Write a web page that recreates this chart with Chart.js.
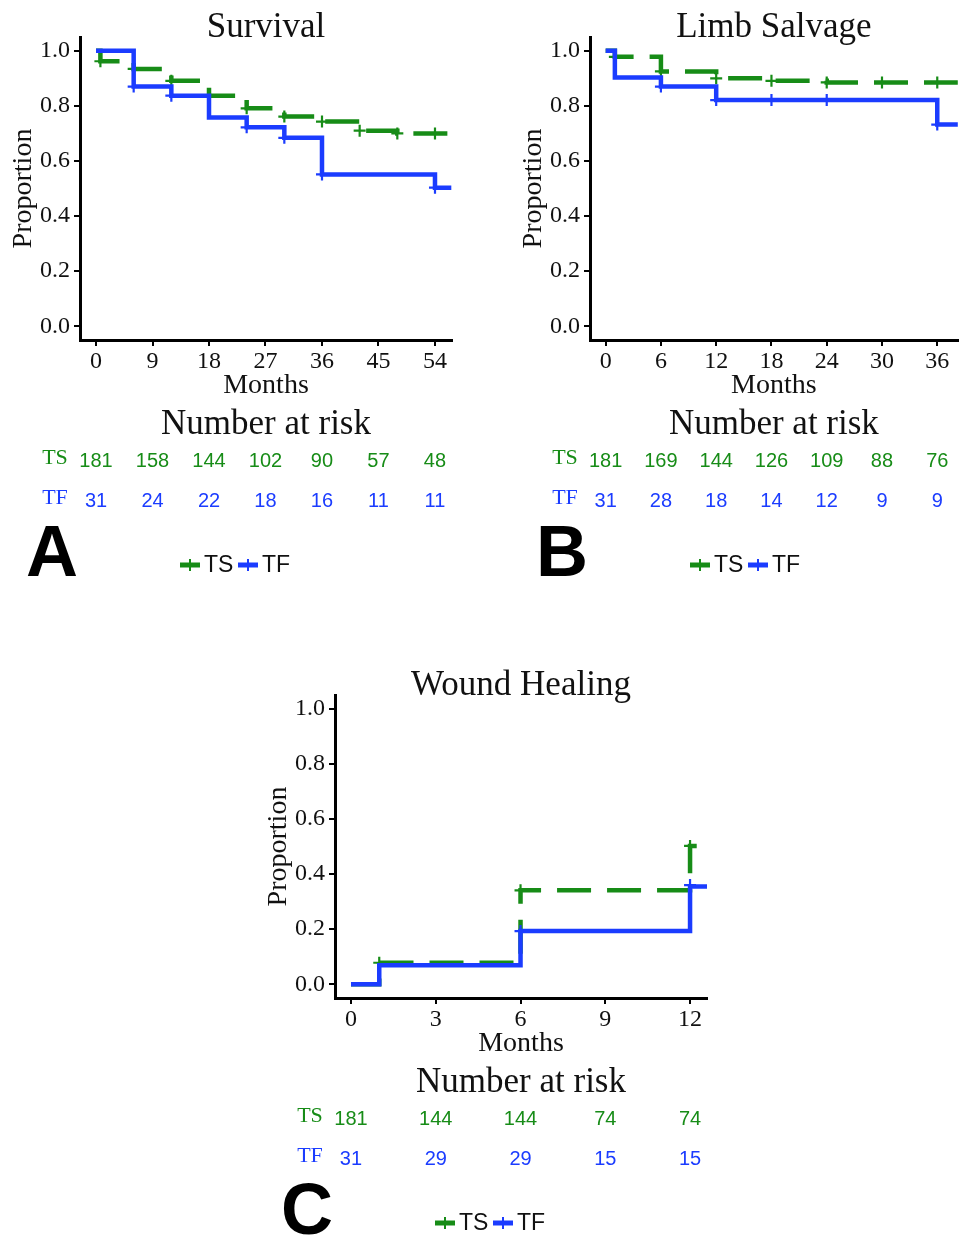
<!DOCTYPE html>
<html>
<head>
<meta charset="utf-8">
<script src="https://cdn.jsdelivr.net/npm/chart.js@4.4.0/dist/chart.umd.min.js"></script>
<style>
  html, body { margin: 0; padding: 0; background: #fff; overflow: hidden; }
  body { width: 966px; height: 1239px; position: relative; }
  canvas { position: absolute; }
</style>
</head>
<body>
<canvas id="chartA" width="470" height="600" style="left:0px;top:0px"></canvas>
<canvas id="chartB" width="456" height="600" style="left:510px;top:0px"></canvas>
<canvas id="chartC" width="470" height="581" style="left:255px;top:658px"></canvas>
<script>
// shared y ticks
const propTicks = [0, 0.2, 0.4, 0.6, 0.8, 1.0];

// A - Survival
const survTicks = [0, 9, 18, 27, 36, 45, 54];
const survTsTime = [0, 0.7, 6, 12, 18, 24, 30, 36, 42, 48, 56.6];
const survTsProb = [1, 0.962, 0.934, 0.891, 0.837, 0.791, 0.761, 0.743, 0.710, 0.700, 0.700];
const survTsCensTime = [0.7, 6, 12, 18, 24, 30, 36, 42, 48, 54];
const survTsCensProb = [0.962, 0.934, 0.891, 0.837, 0.791, 0.761, 0.743, 0.710, 0.700, 0.700];
const survTfTime = [0, 6, 12, 18, 24, 30, 36, 54, 56.6];
const survTfProb = [1, 0.870, 0.837, 0.758, 0.722, 0.684, 0.551, 0.503, 0.503];
const survTfCensTime = [6, 12, 24, 30, 36, 54];
const survTfCensProb = [0.870, 0.837, 0.722, 0.684, 0.551, 0.503];
const survRiskTs = [181, 158, 144, 102, 90, 57, 48];
const survRiskTf = [31, 24, 22, 18, 16, 11, 11];

// B - Limb Salvage
const limbTicks = [0, 6, 12, 18, 24, 30, 36];
const limbTsTime = [0, 1, 6, 12, 18, 24, 38.3];
const limbTsProb = [1, 0.978, 0.925, 0.900, 0.891, 0.885, 0.885];
const limbTsCensTime = [1, 6, 12, 18, 24, 30, 36];
const limbTsCensProb = [0.978, 0.925, 0.900, 0.891, 0.885, 0.885, 0.885];
const limbTfTime = [0, 1, 6, 12, 36, 38.3];
const limbTfProb = [1, 0.903, 0.870, 0.821, 0.732, 0.732];
const limbTfCensTime = [6, 12, 18, 24, 36];
const limbTfCensProb = [0.870, 0.821, 0.821, 0.821, 0.732];
const limbRiskTs = [181, 169, 144, 126, 109, 88, 76];
const limbRiskTf = [31, 28, 18, 14, 12, 9, 9];

// C - Wound Healing
const woundTicks = [0, 3, 6, 9, 12];
const woundTsTime = [0, 1, 6, 12, 12.4];
const woundTsProb = [0, 0.078, 0.341, 0.502, 0.502];
const woundTsCensTime = [1, 6, 12];
const woundTsCensProb = [0.078, 0.341, 0.502];
const woundTfTime = [0, 1, 6, 12, 12.6];
const woundTfProb = [0, 0.069, 0.193, 0.355, 0.355];
const woundTfCensTime = [6, 12];
const woundTfCensProb = [0.193, 0.36];
const woundRiskTs = [181, 144, 144, 74, 74];
const woundRiskTf = [31, 29, 29, 15, 15];

const GREEN = '#178c17';
const BLUE = '#1b3cff';
const SERIF = "'Liberation Serif', 'Times New Roman', serif";
const SANS = "'Liberation Sans', Arial, sans-serif";

function pts(xs, ys) {
  return xs.map((x, i) => ({ x: x, y: ys[i] }));
}

// risk table, panel letter and legend under the plot
function extras(letter, ticks, riskTs, riskTf) {
  return {
    id: 'extras',
    afterDraw(chart) {
      const { ctx, chartArea } = chart;
      const x = chart.scales.x;
      ctx.save();
      ctx.textAlign = 'center';
      ctx.textBaseline = 'middle';

      ctx.fillStyle = '#111';
      ctx.font = '35px ' + SERIF;
      ctx.fillText('Number at risk', (chartArea.left + chartArea.right) / 2, 425);

      ctx.font = '22px ' + SERIF;
      ctx.fillStyle = GREEN;
      ctx.fillText('TS', 55, 458);
      ctx.fillStyle = BLUE;
      ctx.fillText('TF', 55, 498);

      ctx.font = '20px ' + SANS;
      ticks.forEach((t, i) => {
        const px = x.getPixelForValue(t);
        ctx.fillStyle = GREEN;
        ctx.fillText(String(riskTs[i]), px, 461);
        ctx.fillStyle = BLUE;
        ctx.fillText(String(riskTf[i]), px, 501);
      });

      ctx.fillStyle = '#000';
      ctx.font = 'bold 72px ' + SANS;
      ctx.fillText(letter, 52, 556);

      // legend
      const ly = 565;
      [[GREEN, 'TS', 180], [BLUE, 'TF', 238]].forEach(([c, lab, lx]) => {
        ctx.strokeStyle = c;
        ctx.lineWidth = 5;
        ctx.beginPath();
        ctx.moveTo(lx, ly);
        ctx.lineTo(lx + 20, ly);
        ctx.stroke();
        ctx.lineWidth = 2;
        ctx.beginPath();
        ctx.moveTo(lx + 10, ly - 6);
        ctx.lineTo(lx + 10, ly + 6);
        ctx.stroke();
        ctx.fillStyle = '#111';
        ctx.font = '23px ' + SANS;
        ctx.textAlign = 'left';
        ctx.fillText(lab, lx + 24, ly + 1);
      });
      ctx.restore();
    }
  };
}

function makePanel(id, p) {
  const canvas = document.getElementById(id);
  const W = canvas.width, H = canvas.height;
  return new Chart(canvas, {
    type: 'scatter',
    data: {
      datasets: [
        {
          data: pts(p.tfTime, p.tfProb), showLine: true, stepped: true,
          borderColor: BLUE, borderWidth: 4.5, pointRadius: 0,
          borderJoinStyle: 'miter', borderCapStyle: 'butt'
        },
        {
          data: pts(p.tfCensTime, p.tfCensProb), showLine: false,
          pointStyle: 'cross', pointRadius: 6, borderWidth: 2.2, borderColor: BLUE
        },
        {
          data: pts(p.tsTime, p.tsProb), showLine: true, stepped: true,
          borderColor: GREEN, borderWidth: 4.5, pointRadius: 0, borderDash: [34, 16],
          borderJoinStyle: 'miter', borderCapStyle: 'butt'
        },
        {
          data: pts(p.tsCensTime, p.tsCensProb), showLine: false,
          pointStyle: 'cross', pointRadius: 6, borderWidth: 2.2, borderColor: GREEN
        }
      ]
    },
    options: {
      responsive: false,
      animation: false,
      devicePixelRatio: 1,
      layout: { padding: { left: 0, right: W - p.right, top: 0, bottom: H - 400 } },
      plugins: {
        legend: { display: false },
        tooltip: { enabled: false },
        title: {
          display: true, text: p.title, fullSize: false, color: '#111',
          font: { family: SERIF, size: 35, weight: 'normal', lineHeight: 1 },
          padding: { top: 10, bottom: -8 }
        }
      },
      scales: {
        x: {
          type: 'linear', min: p.xMin, max: p.xMax,
          afterBuildTicks: s => { s.ticks = p.ticks.map(v => ({ value: v })); },
          afterFit: s => { s.height = 60; },
          ticks: {
            color: '#111', padding: 4, maxRotation: 0, autoSkip: false,
            font: { family: SERIF, size: 24, lineHeight: 1 },
            callback: v => String(v)
          },
          grid: { display: true, drawOnChartArea: false, drawTicks: true, tickLength: 6, color: '#000', lineWidth: 2 },
          border: { display: true, color: '#000', width: 3 },
          title: {
            display: true, text: 'Months', color: '#111',
            font: { family: SERIF, size: 28, lineHeight: 1 }, padding: { top: 0, bottom: 0 }
          }
        },
        y: {
          type: 'linear', min: -0.05, max: 1.05,
          afterBuildTicks: s => { s.ticks = propTicks.map(v => ({ value: v })); },
          afterFit: s => { s.width = 80; },
          ticks: {
            color: '#111', padding: 4,
            font: { family: SERIF, size: 24, lineHeight: 1 },
            callback: v => Number(v).toFixed(1)
          },
          grid: { display: true, drawOnChartArea: false, drawTicks: true, tickLength: 6, color: '#000', lineWidth: 2 },
          border: { display: true, color: '#000', width: 3 },
          title: {
            display: true, text: 'Proportion', color: '#111',
            font: { family: SERIF, size: 28, lineHeight: 1 }, padding: { top: 10, bottom: 0 }
          }
        }
      }
    },
    plugins: [extras(p.letter, p.ticks, p.riskTs, p.riskTf)]
  });
}

makePanel('chartA', {
  title: 'Survival', letter: 'A', right: 452, xMin: -2.55, xMax: 56.71, ticks: survTicks,
  tsTime: survTsTime, tsProb: survTsProb, tsCensTime: survTsCensTime, tsCensProb: survTsCensProb,
  tfTime: survTfTime, tfProb: survTfProb, tfCensTime: survTfCensTime, tfCensProb: survTfCensProb,
  riskTs: survRiskTs, riskTf: survRiskTf
});

makePanel('chartB', {
  title: 'Limb Salvage', letter: 'B', right: 456, xMin: -1.70, xMax: 38.23, ticks: limbTicks,
  tsTime: limbTsTime, tsProb: limbTsProb, tsCensTime: limbTsCensTime, tsCensProb: limbTsCensProb,
  tfTime: limbTfTime, tfProb: limbTfProb, tfCensTime: limbTfCensTime, tfCensProb: limbTfCensProb,
  riskTs: limbRiskTs, riskTf: limbRiskTf
});

makePanel('chartC', {
  title: 'Wound Healing', letter: 'C', right: 452, xMin: -0.566, xMax: 12.6, ticks: woundTicks,
  tsTime: woundTsTime, tsProb: woundTsProb, tsCensTime: woundTsCensTime, tsCensProb: woundTsCensProb,
  tfTime: woundTfTime, tfProb: woundTfProb, tfCensTime: woundTfCensTime, tfCensProb: woundTfCensProb,
  riskTs: woundRiskTs, riskTf: woundRiskTf
});
</script>
</body>
</html>
